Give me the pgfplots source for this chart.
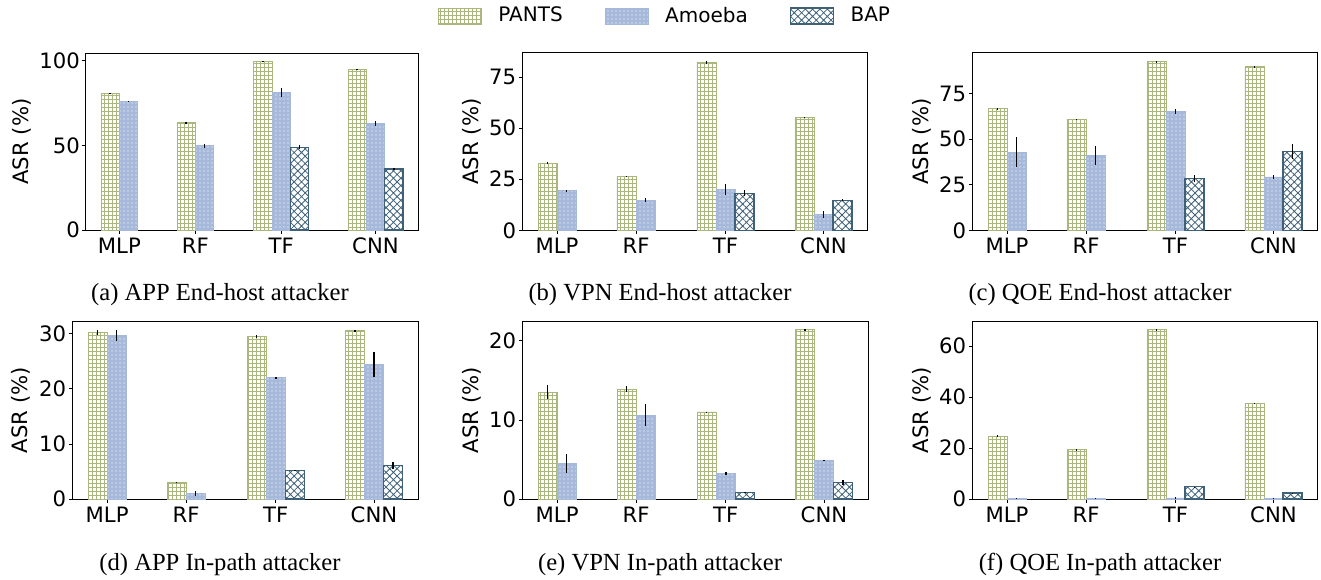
\documentclass[border=0pt]{standalone}
\usepackage{pgfplots}
\pgfplotsset{compat=1.18}
\usepackage{fontspec}
\setmainfont{Liberation Serif}
\newfontfamily\dejavu{DejaVu Sans}
\usetikzlibrary{patterns.meta}

\definecolor{pantsc}{HTML}{A9B67E}
\definecolor{amoebac}{HTML}{A7B9DA}
\definecolor{bapc}{HTML}{3F6178}

\pgfplotsset{
  asr/.style={
    scale only axis, anchor=south west,
    xmin=-0.825, xmax=17.325, ymin=0,
    xtick={1,5.15,9.85,15}, xticklabels={MLP,RF,TF,CNN},
    xtick pos=bottom, ytick pos=left,
    tick align=outside, major tick length=1.75pt,
    every tick/.style={black, line width=0.4pt},
    axis line style={line width=0.5pt},
    ticklabel style={font=\dejavu\fontsize{10.6}{12}\selectfont},
    xticklabel style={inner sep=1.9pt},
    yticklabel style={inner sep=1.1pt},
    /pgf/number format/assume math mode=true,
    ylabel={ASR (\%)},
    every axis y label/.style={at={(axis description cs:-0.146,0.5)}, rotate=90, anchor=center,
      font=\dejavu\fontsize{10.6}{12}\selectfont},
    bar width=1,
  },
  ylabx/.style={every axis y label/.append style={at={(axis description cs:#1,0.5)}}},
  swatch/.style={legend image code/.code={\draw[##1] (0pt,-4pt) rectangle (21.5pt,4pt);}},
  pants/.style={ybar, bar shift=0pt, draw=pantsc, line width=0.4pt, fill=white,
    postaction={pattern={Hatch[angle=0,distance=2pt,line width=0.4pt]}, pattern color=pantsc}, swatch},
  amoeba/.style={ybar, bar shift=0pt, draw=amoebac, line width=0.4pt, fill=amoebac,
    postaction={pattern={Dots[distance=2pt,radius=0.3pt]}, pattern color=white}, swatch},
  bap/.style={ybar, bar shift=0pt, draw=bapc, line width=0.6pt, fill=white,
    postaction={pattern={Hatch[angle=45,distance=2.6pt,line width=0.4pt]}, pattern color=bapc}, swatch},
  errs/.style={draw=none, mark=none, forget plot,
    error bars/.cd, y dir=both, y explicit, error mark=none,
    error bar style={draw=black, line width=0.75pt, solid}},
}

\begin{document}
\begin{tikzpicture}
\path[use as bounding box] (0,0) rectangle (660.5pt,-289.5pt);

% (a) APP, end-host attacker
\begin{axis}[asr, at={(43pt,-115pt)}, width=166pt, height=88.5pt,
  ymax=104.5, ytick={0,50,100}, ylabx=-0.1928,
  legend columns=3,
  legend style={at={(axis description cs:1.741,1.209)}, anchor=center, draw=none, fill=none,
    inner sep=0pt, nodes={inner sep=0pt},
    font=\dejavu\fontsize{10}{12}\selectfont,
    /tikz/every odd column/.style={column sep=8.3pt},
    /tikz/every even column/.style={column sep=21pt}}]
\addplot[pants] coordinates {(0.5,80.7) (4.65,63.3) (8.85,99.8) (14.0,94.9)};
\addlegendentry{PANTS}
\addplot[amoeba] coordinates {(1.5,76.0) (5.65,49.7) (9.85,81.3) (15.0,62.7)};
\addlegendentry{Amoeba}
\addplot[bap] coordinates {(10.85,48.9) (16.0,36.0)};
\addlegendentry{BAP}
\addplot[errs] coordinates {(0.5,80.7) +- (0,0.2) (4.65,63.3) +- (0,0.3) (8.85,99.8) +- (0,0.1) (14.0,94.9) +- (0,0.2)};
\addplot[errs] coordinates {(1.5,76.0) +- (0,0.2) (5.65,49.7) +- (0,1.0) (9.85,81.3) +- (0,2.7) (15.0,62.7) +- (0,1.5)};
\addplot[errs] coordinates {(10.85,48.9) +- (0,1.3) (16.0,36.0) +- (0,0.5)};
\end{axis}

% (b) VPN, end-host attacker
\begin{axis}[asr, at={(261.15pt,-115.15pt)}, width=172.7pt, height=88.8pt,
  ymax=86.9, ytick={0,25,50,75}, ylabx=-0.146]
\addplot[pants] coordinates {(0.5,32.9) (4.65,26.4) (8.85,82.0) (14.0,55.4)};
\addplot[amoeba] coordinates {(1.5,19.4) (5.65,14.8) (9.85,20.1) (15.0,7.8)};
\addplot[bap] coordinates {(10.85,18.1) (16.0,14.7)};
\addplot[errs] coordinates {(0.5,32.9) +- (0,0.3) (4.65,26.4) +- (0,0.3) (8.85,82.0) +- (0,0.8) (14.0,55.4) +- (0,0.2)};
\addplot[errs] coordinates {(1.5,19.4) +- (0,0.2) (5.65,14.8) +- (0,0.9) (9.85,20.1) +- (0,2.6) (15.0,7.8) +- (0,1.7)};
\addplot[errs] coordinates {(10.85,18.1) +- (0,1.4) (16.0,14.7) +- (0,0.5)};
\end{axis}

% (c) QOE, end-host attacker
\begin{axis}[asr, at={(486.15pt,-115.15pt)}, width=172.7pt, height=88.8pt,
  ymax=97.5, ytick={0,25,50,75}, ylabx=-0.146]
\addplot[pants] coordinates {(0.5,66.8) (4.65,60.9) (8.85,92.6) (14.0,89.8)};
\addplot[amoeba] coordinates {(1.5,42.8) (5.65,41.2) (9.85,65.1) (15.0,29.3)};
\addplot[bap] coordinates {(10.85,28.4) (16.0,43.4)};
\addplot[errs] coordinates {(0.5,66.8) +- (0,0.3) (4.65,60.9) +- (0,0.4) (8.85,92.6) +- (0,0.3) (14.0,89.8) +- (0,0.3)};
\addplot[errs] coordinates {(1.5,42.8) +- (0,8.3) (5.65,41.2) +- (0,5.1) (9.85,65.1) +- (0,1.3) (15.0,29.3) +- (0,1.0)};
\addplot[errs] coordinates {(10.85,28.4) +- (0,2.0) (16.0,43.4) +- (0,4.1)};
\end{axis}

% (d) APP, in-path attacker
\begin{axis}[asr, at={(36.15pt,-249.5pt)}, width=173pt, height=89pt,
  ymax=32.3, ytick={0,10,20,30}, ylabx=-0.149]
\addplot[pants] coordinates {(0.5,30.25) (4.65,3.0) (8.85,29.5) (14.0,30.55)};
\addplot[amoeba] coordinates {(1.5,29.6) (5.65,0.97) (9.85,22.0) (15.0,24.4)};
\addplot[bap] coordinates {(10.85,5.2) (16.0,6.1)};
\addplot[errs] coordinates {(0.5,30.25) +- (0,0.4) (4.65,3.0) +- (0,0.05) (8.85,29.5) +- (0,0.3) (14.0,30.55) +- (0,0.15)};
\addplot[errs] coordinates {(1.5,29.6) +- (0,1.0) (5.65,0.97) +- (0,0.5) (9.85,22.0) +- (0,0.1) (15.0,24.4) +- (0,2.35)};
\addplot[errs] coordinates {(10.85,5.2) +- (0,0.05) (16.0,6.1) +- (0,0.65)};
\end{axis}

% (e) VPN, in-path attacker
\begin{axis}[asr, at={(261.15pt,-249.5pt)}, width=173pt, height=89pt,
  ymax=22.5, ytick={0,10,20}, ylabx=-0.146]
\addplot[pants] coordinates {(0.5,13.5) (4.65,13.9) (8.85,11.0) (14.0,21.4)};
\addplot[amoeba] coordinates {(1.5,4.5) (5.65,10.6) (9.85,3.25) (15.0,4.9)};
\addplot[bap] coordinates {(10.85,0.85) (16.0,2.1)};
\addplot[errs] coordinates {(0.5,13.5) +- (0,0.9) (4.65,13.9) +- (0,0.35) (8.85,11.0) +- (0,0.03) (14.0,21.4) +- (0,0.05)};
\addplot[errs] coordinates {(1.5,4.5) +- (0,1.25) (5.65,10.6) +- (0,1.4) (9.85,3.25) +- (0,0.2) (15.0,4.9) +- (0,0.05)};
\addplot[errs] coordinates {(10.85,0.85) +- (0,0.03) (16.0,2.1) +- (0,0.35)};
\end{axis}

% (f) QOE, in-path attacker
\begin{axis}[asr, at={(486.15pt,-249.5pt)}, width=172.7pt, height=89pt,
  ymax=69.8, ytick={0,20,40,60}, ylabx=-0.1465]
\addplot[pants] coordinates {(0.5,24.7) (4.65,19.35) (8.85,66.4) (14.0,37.5)};
\addplot[amoeba] coordinates {(1.5,0.25) (5.65,0.3) (9.85,0.4) (15.0,0.3)};
\addplot[bap] coordinates {(10.85,4.8) (16.0,2.35)};
\addplot[errs] coordinates {(0.5,24.7) +- (0,0.3) (4.65,19.35) +- (0,0.3) (8.85,66.4) +- (0,0.2) (14.0,37.5) +- (0,0.2)};
\addplot[errs] coordinates {(1.5,0.25) +- (0,0.05) (5.65,0.3) +- (0,0.05) (9.85,0.4) +- (0,0.3) (15.0,0.3) +- (0,0.05)};
\addplot[errs] coordinates {(10.85,4.8) +- (0,0.1) (16.0,2.35) +- (0,0.1)};
\end{axis}

% sub-captions
\begin{scope}[every node/.style={anchor=base, inner sep=0pt, font=\fontsize{12.3}{14}\selectfont}]
\node at (110pt,-150pt) {(a) APP End-host attacker};
\node at (330pt,-150pt) {(b) VPN End-host attacker};
\node at (550pt,-150pt) {(c) QOE End-host attacker};
\node at (110pt,-285pt) {(d) APP In-path attacker};
\node at (330pt,-285pt) {(e) VPN In-path attacker};
\node at (550pt,-285pt) {(f) QOE In-path attacker};
\end{scope}
\end{tikzpicture}
\end{document}
